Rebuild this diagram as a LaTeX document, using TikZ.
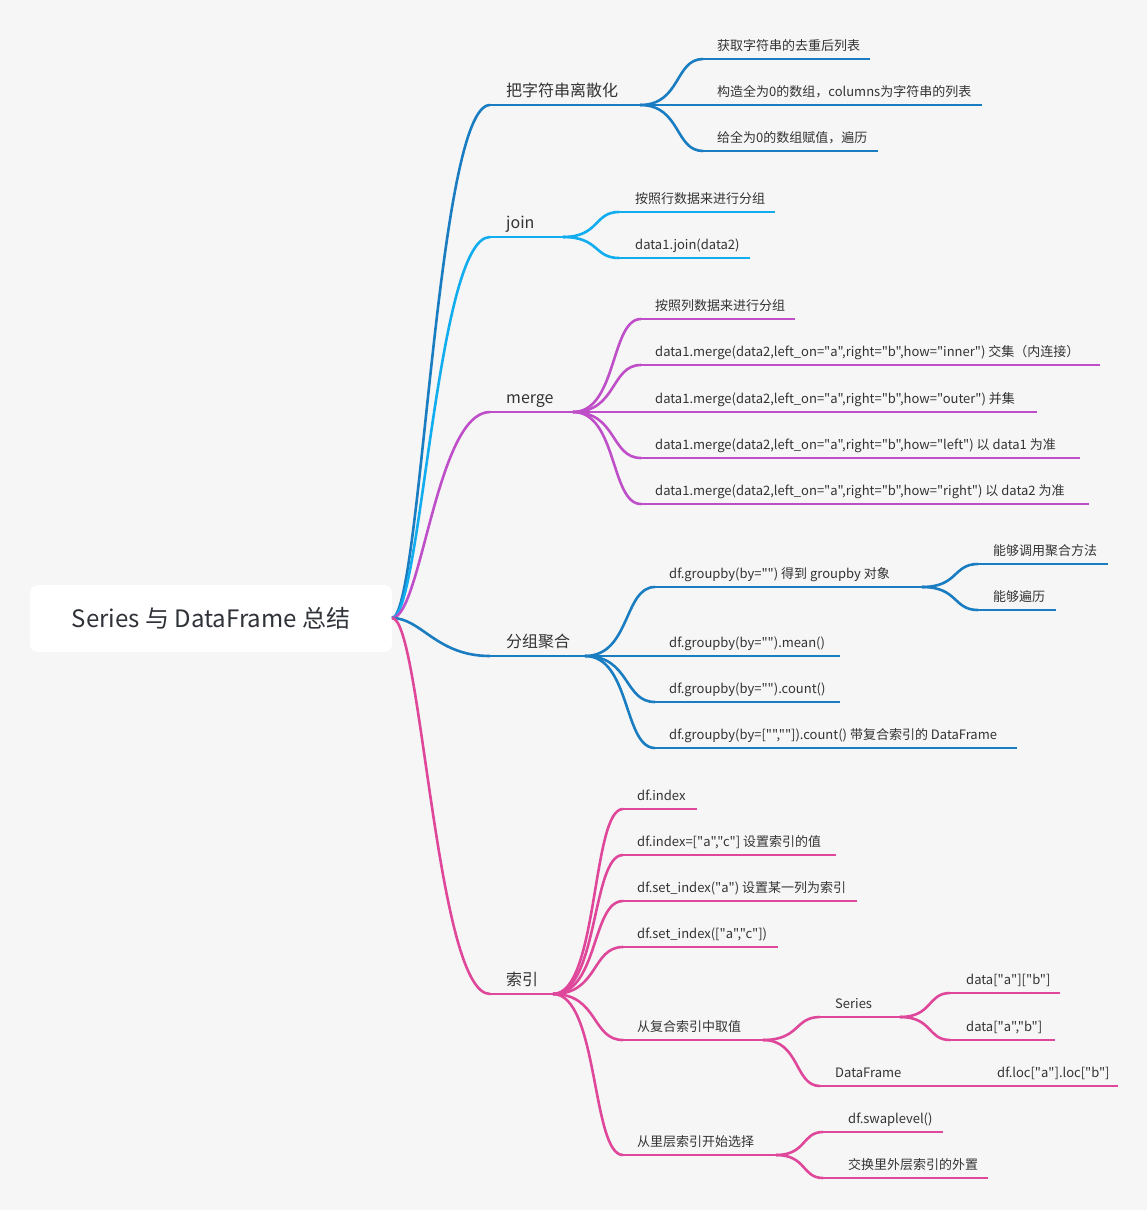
\documentclass[tikz,border=0pt]{standalone}
\usepackage{fontspec}
\newfontfamily\mmfont{Noto Sans CJK SC}
\usetikzlibrary{calc}
\definecolor{cA}{HTML}{1A7DC2}
\definecolor{cB}{HTML}{12ADEF}
\definecolor{cC}{HTML}{BF4FC8}
\definecolor{cD}{HTML}{DF489A}
\definecolor{txt}{HTML}{333333}
\definecolor{roottxt}{HTML}{2F3238}
\definecolor{bg}{HTML}{F6F6F6}
\tikzset{
  lbl/.style={font=\mmfont\fontsize{13}{15}\selectfont, text=txt, anchor=base west, inner sep=0pt},
  mainlbl/.style={font=\mmfont\fontsize{16}{18}\selectfont, text=txt, anchor=base west, inner sep=0pt},
  rootbox/.style={fill=white, rounded corners=8pt, minimum width=362pt, minimum height=67pt, inner sep=0pt,
    font=\mmfont\fontsize{24}{28}\selectfont, text=roottxt},
  edge/.style={line width=2.6pt},
}
\newcommand\rootcurve[3]{\draw[edge,#1] let \p1=(#2),\p2=(#3) in (\p1) .. controls ({\x1+0.3*(\x2-\x1)},\y1) and ({\x1+0.45*(\x2-\x1)},\y2) .. (\p2);}
\newcommand\subcurve[3]{\draw[edge,#1] let \p1=(#2),\p2=(#3) in (\p1) .. controls ({\x1+0.65*(\x2-\x1)},\y1) and ({\x1+0.55*(\x2-\x1)},\y2) .. (\p2);}
% leaf: color, parent, name, xstart, y, xend, textx, text
\newcommand\mmleaf[8]{%
  \coordinate (#3s) at (#4,#5);
  \coordinate (#3e) at (#6,#5);
  \subcurve{#1}{#2}{#3s}
  \draw[edge,#1] (#3s) -- (#3e);
  \node[lbl] (#3) at (#7,#5-9) {#8};}
% main branch: color, name, y, xend, text
\newcommand\mmmain[5]{%
  \coordinate (#2s) at (490,#3);
  \coordinate (#2e) at (#4,#3);
  \rootcurve{#1}{R}{#2s}
  \draw[edge,#1] (#2s) -- (#2e);
  \node[mainlbl] (#2) at (506,#3-9) {#5};}
\begin{document}
\begin{tikzpicture}[x=1pt,y=-1pt]
\fill[bg] (0,0) rectangle (1147,1210);
\useasboundingbox (0,0) rectangle (1147,1210);
\node[rootbox] (root) at (211,618.5) {Series 与 DataFrame 总结};
\coordinate (R) at (392,618);

% branch 1
\mmmain{cA}{bA}{105}{640}{把字符串离散化}
\mmleaf{cA}{bAe}{aA}{703}{59}{870}{717}{获取字符串的去重后列表}
\mmleaf{cA}{bAe}{aB}{703}{105}{982}{717}{构造全为0的数组，columns为字符串的列表}
\mmleaf{cA}{bAe}{aC}{703}{151}{878}{717}{给全为0的数组赋值，遍历}

% join
\mmmain{cB}{bB}{237}{563}{join}
\mmleaf{cB}{bBe}{jA}{619}{212}{775}{635}{按照行数据来进行分组}
\mmleaf{cB}{bBe}{jB}{619}{258}{750}{635}{data1.join(data2)}

% merge
\mmmain{cC}{bC}{412}{573}{merge}
\mmleaf{cC}{bCe}{mA}{641}{319}{795}{655}{按照列数据来进行分组}
\mmleaf{cC}{bCe}{mB}{641}{365}{1100}{655}{data1.merge(data2,left\_on="a",right="b",how="inner") 交集（内连接）}
\mmleaf{cC}{bCe}{mC}{641}{412}{1037}{655}{data1.merge(data2,left\_on="a",right="b",how="outer") 并集}
\mmleaf{cC}{bCe}{mD}{641}{458}{1080}{655}{data1.merge(data2,left\_on="a",right="b",how="left") 以 data1 为准}
\mmleaf{cC}{bCe}{mE}{641}{504}{1089}{655}{data1.merge(data2,left\_on="a",right="b",how="right") 以 data2 为准}

% groupby
\mmmain{cA}{bD}{656}{585}{分组聚合}
\mmleaf{cA}{bDe}{gA}{655}{587}{922}{669}{df.groupby(by="") 得到 groupby 对象}
\mmleaf{cA}{gAe}{gAa}{978}{564}{1108}{993}{能够调用聚合方法}
\mmleaf{cA}{gAe}{gAb}{978}{610}{1056}{993}{能够遍历}
\mmleaf{cA}{bDe}{gB}{655}{656}{840}{669}{df.groupby(by="").mean()}
\mmleaf{cA}{bDe}{gC}{655}{702}{840}{669}{df.groupby(by="").count()}
\mmleaf{cA}{bDe}{gD}{655}{748}{1017}{669}{df.groupby(by=["",""]).count() 带复合索引的 DataFrame}

% index
\mmmain{cD}{bE}{994}{553}{索引}
\mmleaf{cD}{bEe}{iA}{623}{809}{697}{637}{df.index}
\mmleaf{cD}{bEe}{iB}{623}{855}{836}{637}{df.index=["a","c"] 设置索引的值}
\mmleaf{cD}{bEe}{iC}{623}{901}{857}{637}{df.set\_index("a") 设置某一列为索引}
\mmleaf{cD}{bEe}{iD}{623}{947}{778}{637}{df.set\_index(["a","c"])}
\mmleaf{cD}{bEe}{iE}{623}{1040}{763}{637}{从复合索引中取值}
\mmleaf{cD}{iEe}{sA}{820}{1017}{900}{835}{Series}
\mmleaf{cD}{sAe}{sAa}{950}{993}{1060}{966}{data["a"]["b"]}
\mmleaf{cD}{sAe}{sAb}{950}{1040}{1055}{966}{data["a","b"]}
\mmleaf{cD}{iEe}{sB}{820}{1086}{983}{835}{DataFrame}
\mmleaf{cD}{sBe}{sBa}{983}{1086}{1118}{997}{df.loc["a"].loc["b"]}
\mmleaf{cD}{bEe}{iF}{623}{1155}{776}{637}{从里层索引开始选择}
\mmleaf{cD}{iFe}{wA}{823}{1132}{943}{848}{df.swaplevel()}
\mmleaf{cD}{iFe}{wB}{823}{1178}{988}{848}{交换里外层索引的外置}
\end{tikzpicture}
\end{document}
